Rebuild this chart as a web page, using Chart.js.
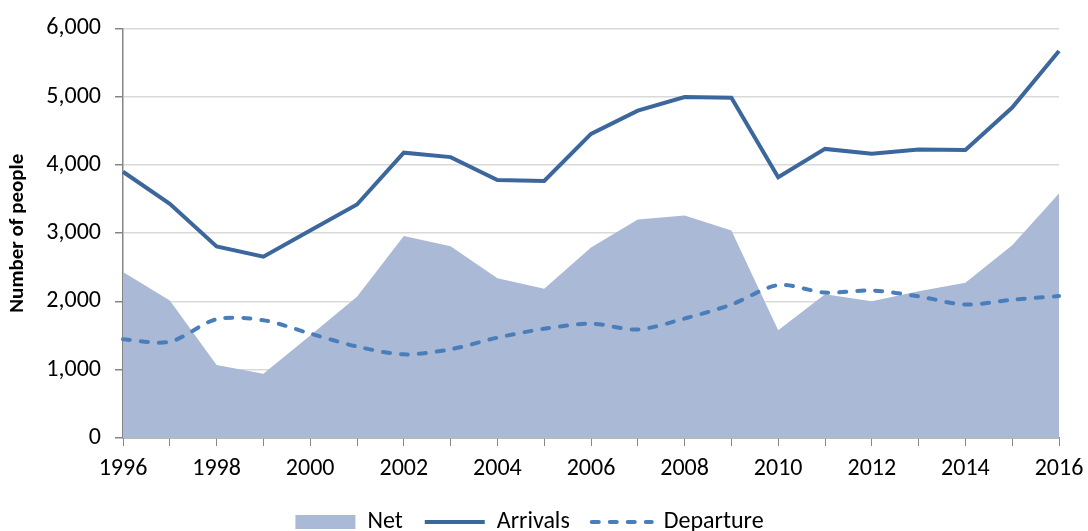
<!DOCTYPE html>
<html>
<head>
<meta charset="utf-8">
<script src="https://cdn.jsdelivr.net/npm/chart.js@4/dist/chart.umd.min.js"></script>
<style>
  html, body { margin: 0; padding: 0; background: #fff; }
  #wrap { width: 1088px; height: 531px; position: relative; }
</style>
</head>
<body>
<div id="wrap"><canvas id="chart"></canvas></div>
<script>
// Migration figures
const years = ["1996", "1997", "1998", "1999", "2000", "2001", "2002", "2003", "2004", "2005", "2006",
               "2007", "2008", "2009", "2010", "2011", "2012", "2013", "2014", "2015", "2016"];
const netValues = [2430, 2015, 1070, 940, 1500, 2070, 2960, 2810, 2340, 2185, 2790,
                   3200, 3260, 3040, 1580, 2105, 2005, 2150, 2275, 2825, 3580];
const arrivalValues = [3900, 3430, 2805, 2655, 3040, 3420, 4180, 4115, 3780, 3765, 4455,
                       4795, 4995, 4985, 3820, 4235, 4165, 4225, 4220, 4840, 5670];
const departureValues = [1445, 1410, 1740, 1725, 1530, 1340, 1225, 1300, 1470, 1600, 1675,
                         1590, 1750, 1955, 2240, 2130, 2160, 2075, 1955, 2025, 2080];
const yTicks = [0, 1000, 2000, 3000, 4000, 5000, 6000];

const FONT = "Carlito, Calibri, 'Liberation Sans', sans-serif";
const AXIS_GREY = "#868686";

const ctx = document.getElementById("chart").getContext("2d");
new Chart(ctx, {
  type: "line",
  data: {
    labels: years,
    datasets: [
      {
        label: "Net",
        data: netValues,
        fill: "origin",
        backgroundColor: "#aab9d6",
        borderWidth: 0,
        borderColor: "rgba(0,0,0,0)",
        pointRadius: 0,
        pointStyle: "rect",
        tension: 0,
        order: 3,
      },
      {
        label: "Arrivals",
        data: arrivalValues,
        fill: false,
        borderColor: "#3c679c",
        backgroundColor: "#3c679c",
        borderWidth: 4,
        pointRadius: 0,
        pointStyle: "line",
        tension: 0,
        order: 1,
      },
      {
        label: "Departure",
        data: departureValues,
        fill: false,
        borderColor: "#4a7ebb",
        backgroundColor: "#4a7ebb",
        borderWidth: 4,
        borderDash: [7, 11],
        borderCapStyle: "round",
        pointRadius: 0,
        pointStyle: "line",
        tension: 0.3,
        order: 2,
      },
    ],
  },
  options: {
    responsive: true,
    maintainAspectRatio: false,
    animation: false,
    // fixed padding; negative bottom lets the legend hang a little lower
    layout: { autoPadding: false, padding: { left: 0, right: 29, top: 27, bottom: -13 } },
    plugins: {
      tooltip: { enabled: false },
      legend: {
        position: "bottom",
        labels: {
          usePointStyle: true,
          pointStyleWidth: 60,
          boxHeight: 14,
          padding: 22,
          color: "#000",
          font: { family: FONT, size: 24 },
          generateLabels: (chart) => {
            const items = Chart.defaults.plugins.legend.labels.generateLabels(chart);
            items.forEach(it => {
              const ds = chart.data.datasets[it.datasetIndex];
              it.lineDash = ds.borderDash || [];
              it.lineCap = ds.borderCapStyle || "butt";
            });
            return items.sort((a, b) => a.datasetIndex - b.datasetIndex);
          },
        },
      },
    },
    scales: {
      x: {
        type: "category",
        offset: false,
        grid: {
          drawOnChartArea: false,
          color: AXIS_GREY,
          tickLength: 8,
          tickColor: AXIS_GREY,
        },
        border: { color: AXIS_GREY, width: 1.5 },
        ticks: {
          autoSkip: false,
          maxRotation: 0,
          padding: 9,
          color: "#000",
          font: { family: FONT, size: 24 },
          callback: function (val, i) { return i % 2 === 0 ? years[i] : ""; },
        },
        afterFit: (s) => {
          s.height = 50;
          s.paddingLeft = 0;
          s.paddingRight = 0;
        },
      },
      y: {
        min: 0,
        max: 6000,
        afterBuildTicks: (s) => { s.ticks = yTicks.map(v => ({ value: v })); },
        grid: {
          color: "#d9d9d9",
          lineWidth: 1.5,
          tickLength: 8,
          tickColor: AXIS_GREY,
        },
        border: { color: AXIS_GREY, width: 1.5 },
        ticks: {
          padding: 14,
          color: "#000",
          font: { family: FONT, size: 24 },
          callback: (v) => v.toLocaleString("en-US"),
        },
        title: {
          display: true,
          text: "Number of people",
          color: "#000",
          font: { family: FONT, size: 21, weight: "bold" },
          padding: { top: 5, bottom: 6 },
        },
        afterFit: (s) => { s.width = 123; },
      },
    },
  },
});
</script>
</body>
</html>
